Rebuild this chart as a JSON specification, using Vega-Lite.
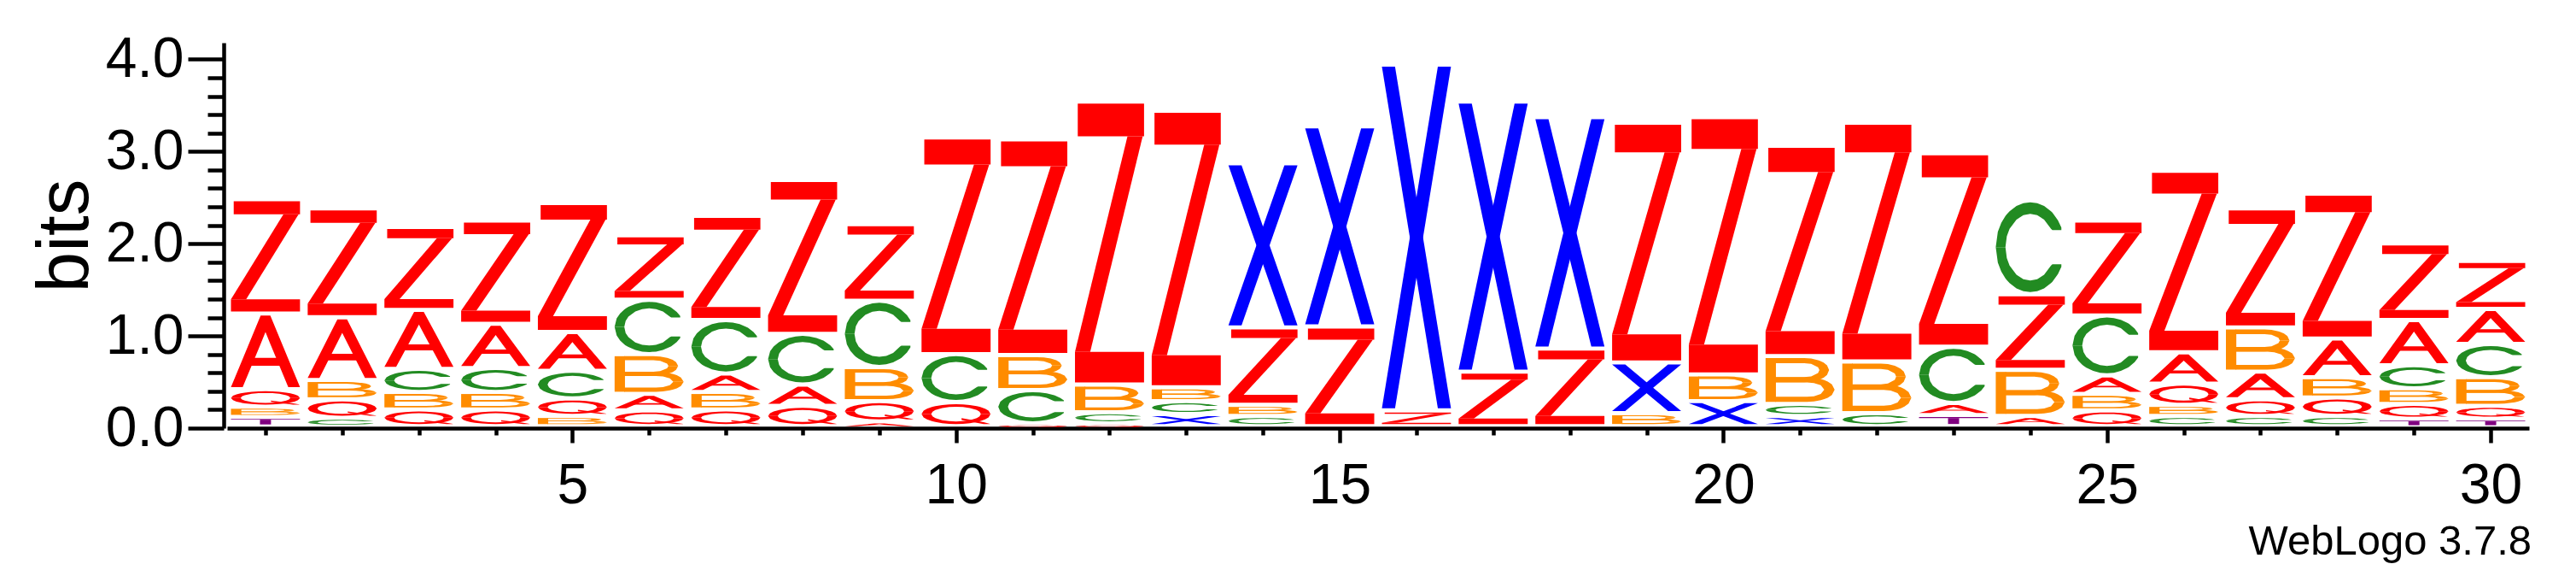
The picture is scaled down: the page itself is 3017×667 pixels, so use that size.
{
  "$schema": "https://vega.github.io/schema/vega-lite/v6.json",
  "width": 2696,
  "height": 451,
  "autosize": {"type": "none"},
  "padding": {"left": 266, "top": 50, "right": 55, "bottom": 166},
  "background": "white",
  "config": {"view": {"stroke": null}},
  "title": {"text": "WebLogo 3.7.8", "orient": "bottom", "anchor": "end", "font": "Liberation Sans", "fontSize": 49, "fontWeight": "normal", "color": "black", "offset": 9, "dx": 3},
  "datasets": {
    "logo": [
      {"pos": 1, "letter": "Z", "bits": 1.24}, {"pos": 1, "letter": "A", "bits": 0.82}, {"pos": 1, "letter": "Q", "bits": 0.19}, {"pos": 1, "letter": "B", "bits": 0.11}, {"pos": 1, "letter": "T", "bits": 0.10},
      {"pos": 2, "letter": "Z", "bits": 1.18}, {"pos": 2, "letter": "A", "bits": 0.68}, {"pos": 2, "letter": "B", "bits": 0.21}, {"pos": 2, "letter": "Q", "bits": 0.20}, {"pos": 2, "letter": "C", "bits": 0.09},
      {"pos": 3, "letter": "Z", "bits": 0.90}, {"pos": 3, "letter": "A", "bits": 0.64}, {"pos": 3, "letter": "C", "bits": 0.25}, {"pos": 3, "letter": "B", "bits": 0.19}, {"pos": 3, "letter": "Q", "bits": 0.18},
      {"pos": 4, "letter": "Z", "bits": 1.12}, {"pos": 4, "letter": "A", "bits": 0.48}, {"pos": 4, "letter": "C", "bits": 0.26}, {"pos": 4, "letter": "B", "bits": 0.19}, {"pos": 4, "letter": "Q", "bits": 0.18},
      {"pos": 5, "letter": "Z", "bits": 1.40}, {"pos": 5, "letter": "A", "bits": 0.42}, {"pos": 5, "letter": "C", "bits": 0.30}, {"pos": 5, "letter": "Q", "bits": 0.19}, {"pos": 5, "letter": "B", "bits": 0.11},
      {"pos": 6, "letter": "Z", "bits": 0.70}, {"pos": 6, "letter": "C", "bits": 0.59}, {"pos": 6, "letter": "B", "bits": 0.43}, {"pos": 6, "letter": "A", "bits": 0.18}, {"pos": 6, "letter": "Q", "bits": 0.17},
      {"pos": 7, "letter": "Z", "bits": 1.13}, {"pos": 7, "letter": "C", "bits": 0.58}, {"pos": 7, "letter": "A", "bits": 0.20}, {"pos": 7, "letter": "B", "bits": 0.19}, {"pos": 7, "letter": "Q", "bits": 0.18},
      {"pos": 8, "letter": "Z", "bits": 1.67}, {"pos": 8, "letter": "C", "bits": 0.55}, {"pos": 8, "letter": "A", "bits": 0.23}, {"pos": 8, "letter": "Q", "bits": 0.22},
      {"pos": 9, "letter": "Z", "bits": 0.83}, {"pos": 9, "letter": "C", "bits": 0.72}, {"pos": 9, "letter": "B", "bits": 0.37}, {"pos": 9, "letter": "Q", "bits": 0.22}, {"pos": 9, "letter": "A", "bits": 0.05},
      {"pos": 10, "letter": "Z", "bits": 2.35}, {"pos": 10, "letter": "C", "bits": 0.52}, {"pos": 10, "letter": "Q", "bits": 0.26},
      {"pos": 11, "letter": "Z", "bits": 2.34}, {"pos": 11, "letter": "B", "bits": 0.38}, {"pos": 11, "letter": "C", "bits": 0.36}, {"pos": 11, "letter": "Q", "bits": 0.03},
      {"pos": 12, "letter": "Z", "bits": 3.07}, {"pos": 12, "letter": "B", "bits": 0.30}, {"pos": 12, "letter": "C", "bits": 0.12}, {"pos": 12, "letter": "Q", "bits": 0.03},
      {"pos": 13, "letter": "Z", "bits": 3.00}, {"pos": 13, "letter": "B", "bits": 0.15}, {"pos": 13, "letter": "C", "bits": 0.14}, {"pos": 13, "letter": "X", "bits": 0.13},
      {"pos": 14, "letter": "X", "bits": 1.78}, {"pos": 14, "letter": "Z", "bits": 0.84}, {"pos": 14, "letter": "B", "bits": 0.12}, {"pos": 14, "letter": "C", "bits": 0.11},
      {"pos": 15, "letter": "X", "bits": 2.17}, {"pos": 15, "letter": "Z", "bits": 1.08},
      {"pos": 16, "letter": "X", "bits": 3.75}, {"pos": 16, "letter": "Z", "bits": 0.17},
      {"pos": 17, "letter": "X", "bits": 2.93}, {"pos": 17, "letter": "Z", "bits": 0.59},
      {"pos": 18, "letter": "X", "bits": 2.51}, {"pos": 18, "letter": "Z", "bits": 0.84},
      {"pos": 19, "letter": "Z", "bits": 2.60}, {"pos": 19, "letter": "X", "bits": 0.55}, {"pos": 19, "letter": "B", "bits": 0.14},
      {"pos": 20, "letter": "Z", "bits": 2.79}, {"pos": 20, "letter": "B", "bits": 0.29}, {"pos": 20, "letter": "X", "bits": 0.27},
      {"pos": 21, "letter": "Z", "bits": 2.28}, {"pos": 21, "letter": "B", "bits": 0.52}, {"pos": 21, "letter": "C", "bits": 0.13}, {"pos": 21, "letter": "X", "bits": 0.11},
      {"pos": 22, "letter": "Z", "bits": 2.59}, {"pos": 22, "letter": "B", "bits": 0.56}, {"pos": 22, "letter": "C", "bits": 0.14},
      {"pos": 23, "letter": "Z", "bits": 2.10}, {"pos": 23, "letter": "C", "bits": 0.61}, {"pos": 23, "letter": "A", "bits": 0.13}, {"pos": 23, "letter": "T", "bits": 0.12},
      {"pos": 24, "letter": "C", "bits": 1.02}, {"pos": 24, "letter": "Z", "bits": 0.82}, {"pos": 24, "letter": "B", "bits": 0.50}, {"pos": 24, "letter": "A", "bits": 0.11},
      {"pos": 25, "letter": "Z", "bits": 1.03}, {"pos": 25, "letter": "C", "bits": 0.65}, {"pos": 25, "letter": "A", "bits": 0.20}, {"pos": 25, "letter": "B", "bits": 0.18}, {"pos": 25, "letter": "Q", "bits": 0.17},
      {"pos": 26, "letter": "Z", "bits": 1.97}, {"pos": 26, "letter": "A", "bits": 0.34}, {"pos": 26, "letter": "Q", "bits": 0.23}, {"pos": 26, "letter": "B", "bits": 0.12}, {"pos": 26, "letter": "C", "bits": 0.11},
      {"pos": 27, "letter": "Z", "bits": 1.29}, {"pos": 27, "letter": "B", "bits": 0.48}, {"pos": 27, "letter": "A", "bits": 0.30}, {"pos": 27, "letter": "Q", "bits": 0.18}, {"pos": 27, "letter": "C", "bits": 0.11},
      {"pos": 28, "letter": "Z", "bits": 1.57}, {"pos": 28, "letter": "A", "bits": 0.42}, {"pos": 28, "letter": "B", "bits": 0.22}, {"pos": 28, "letter": "Q", "bits": 0.20}, {"pos": 28, "letter": "C", "bits": 0.11},
      {"pos": 29, "letter": "Z", "bits": 0.83}, {"pos": 29, "letter": "A", "bits": 0.49}, {"pos": 29, "letter": "C", "bits": 0.25}, {"pos": 29, "letter": "B", "bits": 0.17}, {"pos": 29, "letter": "Q", "bits": 0.16}, {"pos": 29, "letter": "T", "bits": 0.08},
      {"pos": 30, "letter": "Z", "bits": 0.52}, {"pos": 30, "letter": "A", "bits": 0.38}, {"pos": 30, "letter": "C", "bits": 0.36}, {"pos": 30, "letter": "B", "bits": 0.31}, {"pos": 30, "letter": "Q", "bits": 0.14}, {"pos": 30, "letter": "T", "bits": 0.08}
    ],
    "glyphs": [
      {"letter": "A", "parts": [
        {"id": 0, "u": [0, 0.17, 0.43, 0.5, 0.57, 0.83, 1], "lo": [0, 0, 0.605, 0.77, 0.605, 0, 0], "hi": [0, 0.395, 1, 1, 1, 0.395, 0]},
        {"id": 1, "u": [0.2, 0.8], "lo": [0.3, 0.3], "hi": [0.41, 0.41]}
      ]},
      {"letter": "B", "parts": [
        {"id": 0, "u": [0, 0.15], "lo": [0, 0], "hi": [1, 1]},
        {"id": 1, "u": [0.14, 0.56, 0.66, 0.76, 0.78, 0.84, 0.89, 0.92], "lo": [0.885, 0.885, 0.8675, 0.7917, 0.725, 0.725, 0.725, 0.725], "hi": [1, 1, 0.9892, 0.9535, 0.9427, 0.8978, 0.8349, 0.725]},
        {"id": 2, "u": [0.14, 0.56, 0.66, 0.76, 0.78, 0.84, 0.89, 0.92], "lo": [0.45, 0.45, 0.4608, 0.4965, 0.5073, 0.5522, 0.6151, 0.725], "hi": [0.565, 0.565, 0.5825, 0.6583, 0.725, 0.725, 0.725, 0.725]},
        {"id": 3, "u": [0.14, 0.6, 0.7, 0.8, 0.85, 0.9, 0.96, 1], "lo": [0.445, 0.445, 0.4312, 0.379, 0.28, 0.28, 0.28, 0.28], "hi": [0.56, 0.56, 0.5511, 0.5225, 0.4986, 0.4652, 0.402, 0.28]},
        {"id": 4, "u": [0.14, 0.6, 0.7, 0.8, 0.85, 0.9, 0.96, 1], "lo": [0, 0, 0.0089, 0.0375, 0.0614, 0.0948, 0.158, 0.28], "hi": [0.115, 0.115, 0.1288, 0.181, 0.28, 0.28, 0.28, 0.28]}
      ]},
      {"letter": "C", "parts": [
        {"id": 0, "u": [0, 0.03, 0.08, 0.14, 0.16, 0.2, 0.3, 0.4, 0.5, 0.6, 0.7, 0.8, 0.82, 0.9, 0.95], "lo": [0.5, 0.5, 0.5, 0.5, 0.6218, 0.7047, 0.8076, 0.8554, 0.87, 0.8554, 0.8076, 0.7047, 0.69, 0.69, 0.69], "hi": [0.5, 0.6706, 0.7713, 0.847, 0.8666, 0.9, 0.958, 0.99, 1, 0.99, 0.958, 0.9, 0.8842, 0.8, 0.718]},
        {"id": 1, "u": [0, 0.03, 0.08, 0.14, 0.16, 0.2, 0.3, 0.4, 0.5, 0.6, 0.7, 0.8, 0.82, 0.9, 0.95], "lo": [0.5, 0.3294, 0.2287, 0.153, 0.1334, 0.1, 0.042, 0.01, 0, 0.01, 0.042, 0.1, 0.1158, 0.2, 0.282], "hi": [0.5, 0.5, 0.5, 0.5, 0.3782, 0.2953, 0.1924, 0.1446, 0.13, 0.1446, 0.1924, 0.2953, 0.31, 0.31, 0.31]}
      ]},
      {"letter": "Q", "parts": [
        {"id": 0, "u": [0, 0.03, 0.08, 0.14, 0.16, 0.2, 0.3, 0.4, 0.5, 0.6, 0.7, 0.8, 0.84, 0.86, 0.92, 0.97, 1], "lo": [0.5, 0.5, 0.5, 0.5, 0.6218, 0.7047, 0.8076, 0.8554, 0.87, 0.8554, 0.8076, 0.7047, 0.6218, 0.5, 0.5, 0.5, 0.5], "hi": [0.5, 0.6706, 0.7713, 0.847, 0.8666, 0.9, 0.958, 0.99, 1, 0.99, 0.958, 0.9, 0.8666, 0.847, 0.7713, 0.6706, 0.5]},
        {"id": 1, "u": [0, 0.03, 0.08, 0.14, 0.16, 0.2, 0.3, 0.4, 0.5, 0.6, 0.7, 0.8, 0.84, 0.86, 0.92, 0.97, 1], "lo": [0.5, 0.3294, 0.2287, 0.153, 0.1334, 0.1, 0.042, 0.01, 0, 0.01, 0.042, 0.1, 0.1334, 0.153, 0.2287, 0.3294, 0.5], "hi": [0.5, 0.5, 0.5, 0.5, 0.3782, 0.2953, 0.1924, 0.1446, 0.13, 0.1446, 0.1924, 0.2953, 0.3782, 0.5, 0.5, 0.5, 0.5]},
        {"id": 2, "u": [0.58, 0.9, 0.99], "lo": [0.2, 0, 0], "hi": [0.3, 0.09, 0.01]}
      ]},
      {"letter": "T", "parts": [
        {"id": 0, "u": [0, 1], "lo": [0.86, 0.86], "hi": [1, 1]},
        {"id": 1, "u": [0.42, 0.58], "lo": [0, 0], "hi": [0.86, 0.86]}
      ]},
      {"letter": "X", "parts": [
        {"id": 0, "u": [0, 0.19, 0.81, 1], "lo": [1, 0.765, 0, 0], "hi": [1, 1, 0.235, 0]},
        {"id": 1, "u": [0, 0.19, 0.81, 1], "lo": [0, 0, 0.765, 1], "hi": [0, 0.235, 1, 1]}
      ]},
      {"letter": "Z", "parts": [
        {"id": 0, "u": [0.04, 1], "lo": [0.883, 0.883], "hi": [1, 1]},
        {"id": 1, "u": [0, 1], "lo": [0, 0], "hi": [0.11, 0.11]},
        {"id": 2, "u": [0, 0.22, 0.76, 0.98], "lo": [0.11, 0.11, 0.659, 0.883], "hi": [0.11, 0.334, 0.883, 0.883]}
      ]}
    ]
  },
  "data": {"name": "logo"},
  "transform": [
    {"stack": "bits", "groupby": ["pos"], "sort": [{"field": "bits", "order": "ascending"}], "as": ["y0", "y1"]},
    {"lookup": "letter", "from": {"data": {"name": "glyphs"}, "key": "letter", "fields": ["parts"]}},
    {"flatten": ["parts"], "as": ["part"]},
    {"calculate": "datum.part.u", "as": "u"},
    {"calculate": "datum.part.lo", "as": "lo"},
    {"calculate": "datum.part.hi", "as": "hi"},
    {"calculate": "datum.pos + '_' + datum.letter + '_' + datum.part.id", "as": "pid"},
    {"flatten": ["u", "lo", "hi"]},
    {"calculate": "datum.y0 + min(0.045, 0.4 * (datum.y1 - datum.y0))", "as": "gb"},
    {"calculate": "datum.pos - 0.45 + 0.9 * datum.u", "as": "gx"},
    {"calculate": "datum.gb + (datum.y1 - datum.gb) * datum.lo", "as": "gy"},
    {"calculate": "datum.gb + (datum.y1 - datum.gb) * datum.hi", "as": "gy2"}
  ],
  "mark": {"type": "area", "interpolate": "linear"},
  "encoding": {
    "x": {
      "field": "gx", "type": "quantitative",
      "scale": {"domain": [0.5, 30.5], "nice": false, "zero": false},
      "axis": {
        "values": [1,2,3,4,5,6,7,8,9,10,11,12,13,14,15,16,17,18,19,20,21,22,23,24,25,26,27,28,29,30],
        "format": "d",
        "labelExpr": "datum.value % 5 === 0 ? datum.label : ''",
        "tickSize": {"condition": {"test": "datum.value % 5 === 0", "value": 17}, "value": 8},
        "title": null, "grid": false,
        "domainColor": "black", "domainWidth": 4.5,
        "tickColor": "black", "tickWidth": 4.5,
        "labelFont": "Liberation Sans", "labelFontSize": 66, "labelColor": "black",
        "labelPadding": 18, "labelFlush": false, "labelOverlap": false, "labelBound": false
      }
    },
    "y": {
      "field": "gy", "type": "quantitative", "stack": null,
      "scale": {"domain": [0, 4.18], "nice": false, "zero": true},
      "axis": {
        "values": [0,0.2,0.4,0.6,0.8,1,1.2,1.4,1.6,1.8,2,2.2,2.4,2.6,2.8,3,3.2,3.4,3.6,3.8,4],
        "format": ".1f",
        "labelExpr": "datum.value % 1 === 0 ? datum.label : ''",
        "tickSize": {"condition": {"test": "datum.value % 1 === 0", "value": 42}, "value": 19},
        "offset": 4,
        "grid": false,
        "domainColor": "black", "domainWidth": 4.5,
        "tickColor": "black", "tickWidth": 4.5,
        "labelFont": "Liberation Sans", "labelFontSize": 66, "labelColor": "black",
        "labelPadding": 5, "labelFlush": false, "labelOverlap": false, "labelBound": false,
        "title": "bits", "titleFont": "Liberation Sans", "titleFontSize": 85, "titleFontWeight": "normal", "titleColor": "black",
        "titleAngle": -90, "titleAlign": "center", "titleBaseline": "alphabetic", "titleX": -160, "titleY": 225.5
      }
    },
    "y2": {"field": "gy2"},
    "detail": {"field": "pid"},
    "color": {
      "field": "letter", "type": "nominal",
      "scale": {"domain": ["A","B","C","Q","T","X","Z"], "range": ["#ff0000","#ff8c00","#228b22","#ff0000","#800080","#0000ff","#ff0000"]},
      "legend": null
    }
  }
}
